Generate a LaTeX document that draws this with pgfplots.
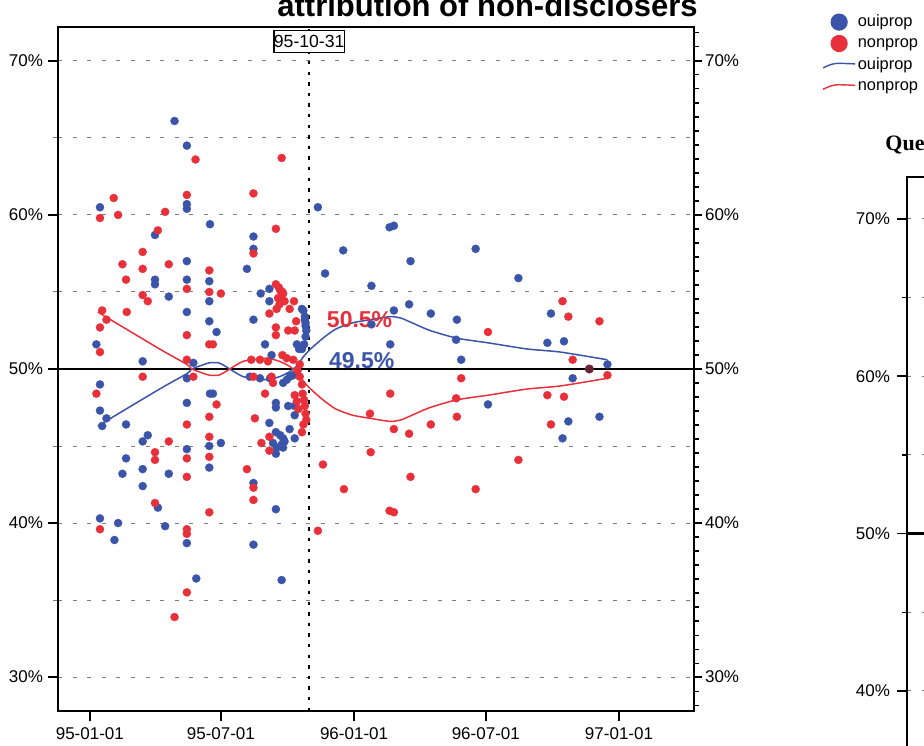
\documentclass[border=0pt]{standalone}
\usepackage{fontspec}
\setmainfont{Liberation Sans}
\newfontfamily\headserif{Liberation Serif}
\usepackage{pgfplots}
\usepackage{pgfplotstable}
\pgfplotsset{compat=1.18}

\definecolor{ouiblue}{RGB}{58,84,170}
\definecolor{nonred}{RGB}{232,48,58}
\definecolor{gridgray}{RGB}{125,125,125}
\definecolor{bothdark}{RGB}{105,35,55}

% x = days since 95-01-01, y = share in percent
\pgfplotstableread{
day pct
117 66.1
134 64.5
14 60.5
134 60.7
134 60.4
90 58.7
134 57.0
90 55.8
90 55.5
134 55.8
109 54.7
134 53.7
9 51.6
73 50.5
143 50.4
134 49.4
14 49.0
14 47.3
23 46.8
17 46.3
50 46.4
134 47.8
80 45.7
73 45.3
134 44.8
50 44.2
73 43.5
45 43.2
109 43.2
73 42.4
94 41.0
14 40.3
39 40.0
104 39.8
34 38.9
134 38.7
147 36.4
315 60.5
166 59.4
226 58.6
226 57.8
217 56.5
165 55.7
165 54.4
165 53.1
175 52.4
248 55.2
236 54.9
248 54.4
226 53.2
293 53.9
295 53.8
297 53.4
297 53.2
298 53.0
298 52.8
299 52.5
298 52.1
296 51.6
293 51.3
286 51.6
289 51.3
242 51.6
251 50.9
221 49.5
235 49.4
249 49.4
267 49.1
272 49.3
276 49.5
281 49.6
286 49.7
166 48.4
170 48.4
257 47.8
257 47.5
274 47.6
283 47.6
283 47.0
248 46.5
276 46.1
257 45.9
263 45.7
267 45.5
269 45.3
265 45.1
258 44.9
267 44.9
253 45.2
283 45.5
257 44.5
181 45.2
165 45.0
165 43.6
226 42.6
257 40.9
226 38.6
265 36.3
350 57.7
414 59.2
420 59.3
443 57.0
325 56.2
389 55.4
533 57.8
592 55.9
420 53.8
441 54.2
471 53.6
507 53.2
389 52.9
415 51.6
506 51.9
513 50.6
632 51.7
655 51.8
637 53.6
715 50.3
667 49.4
550 47.7
661 46.6
653 45.5
704 46.9
}\ouipoints

\pgfplotstableread{
day pct
146 63.6
33 61.1
14 59.8
39 60.0
134 61.3
104 60.2
94 59.0
73 57.6
45 56.8
73 56.5
109 56.8
50 55.8
134 55.2
73 54.8
80 54.4
17 53.8
23 53.2
51 53.7
14 52.7
134 52.2
14 51.1
134 50.6
143 49.5
73 49.5
9 48.4
134 46.4
109 45.3
90 44.6
90 44.1
134 44.2
134 43.0
90 41.3
14 39.6
134 39.6
134 39.3
134 35.5
117 33.9
265 63.7
226 61.4
257 59.1
226 57.5
165 56.4
165 55.0
181 54.9
257 55.5
263 55.1
267 54.9
265 54.6
269 54.4
262 54.2
258 53.9
261 55.3
266 55.0
260 54.6
282 54.4
276 53.9
248 53.6
285 53.1
257 52.7
257 52.2
274 52.5
283 52.5
165 51.6
170 51.6
266 50.9
272 50.7
281 50.6
223 50.6
235 50.6
246 50.5
253 49.1
226 49.5
251 49.5
242 48.4
175 47.7
165 46.9
228 46.8
237 45.2
248 44.7
248 45.6
165 45.6
165 44.3
217 43.5
226 42.3
226 41.5
165 40.7
290 49.5
293 49.0
294 48.4
296 48.0
297 47.6
298 47.1
299 46.7
295 46.4
293 45.9
283 48.3
286 47.9
288 47.4
290 50.3
287 49.9
315 39.5
322 43.8
351 42.2
388 44.6
387 47.1
420 46.1
441 45.8
471 46.4
507 46.9
415 48.4
506 48.1
513 49.4
443 43.0
414 40.8
420 40.7
533 42.2
592 44.1
550 52.4
653 54.4
661 53.4
704 53.1
667 50.6
715 49.6
632 48.3
655 48.2
637 46.4
}\nonpoints

% smoothed trends
\pgfplotstableread{
day oui non
11 46.3 53.7
50 47.4 52.6
100 48.8 51.2
134 49.7 50.3
141 50.0 50.0
152 50.2 49.8
165 50.4 49.6
178 50.4 49.6
190 50.1 49.9
200 49.8 50.2
212 49.5 50.5
225 49.4 50.6
245 49.3 50.7
262 49.5 50.5
275 49.8 50.2
286 50.2 49.8
295 50.8 49.2
305 51.3 48.7
322 52.0 48.0
340 52.6 47.4
363 53.0 47.0
387 53.2 46.8
415 53.4 46.6
430 53.3 46.7
445 53.0 47.0
470 52.5 47.5
507 52.0 48.0
550 51.7 48.3
604 51.3 48.7
650 51.1 48.9
715 50.6 49.4
}\trend

\pgfplotsset{
  gridline/.style={gridgray, line width=0.5pt, dash pattern=on 2pt off 5.3pt},
}

\begin{document}
\begin{tikzpicture}
\path[use as bounding box] (0,0) rectangle (462pt,372.5pt);
\clip (0,0) rectangle (462pt,372.5pt);

% main panel
\begin{axis}[
  scale only axis,
  width=318pt, height=342pt,
  at={(29pt,17pt)}, anchor=south west,
  xmin=-44, xmax=834.6,
  ymin=27.8, ymax=72.2,
  xtick={0,181,365,547,731},
  xticklabels={95-01-01,95-07-01,96-01-01,96-07-01,97-01-01},
  ytick={30,40,50,60,70},
  yticklabels={30\%,40\%,50\%,60\%,70\%},
  minor ytick={35,45,55,65},
  tick pos=left,
  tick align=outside,
  major tick length=5pt, minor tick length=2.5pt,
  ymajorgrids, yminorgrids,
  grid style={gridline},
  axis line style={line width=0.9pt},
  major tick style={black, line width=0.8pt},
  minor tick style={gridgray, line width=0.5pt},
  ticklabel style={font=\fontsize{8.5}{10}\selectfont},
  yticklabel style={xshift=1pt},
  legend style={at={(1.2013,1.0234)}, anchor=north west, draw=none, fill=none,
    font=\fontsize{8.2}{9}\selectfont, inner sep=0pt, row sep=0pt,
    nodes={inner xsep=1pt, inner ysep=1.1pt, text height=6.5pt, text depth=2pt}},
  legend cell align=left,
]
\draw[black, line width=1.2pt] (axis cs:-44,50) -- (axis cs:834.6,50);
\draw[black, line width=0.9pt, dash pattern=on 1.7pt off 3.6pt] (axis cs:303,27.8) -- (axis cs:303,72.2);

\addplot[only marks, mark=*, mark size=2.05pt, color=ouiblue, mark options={line width=0.1pt},
  legend image code/.code={\path[draw=none, fill=none] (0pt,-3pt) rectangle (16pt,3pt); \fill[ouiblue] (8pt,0pt) circle (4.1pt);}]
  table[x=day, y=pct] {\ouipoints};
\addlegendentry{ouiprop}
\addplot[only marks, mark=*, mark size=2.05pt, color=nonred, mark options={line width=0.1pt},
  legend image code/.code={\path[draw=none, fill=none] (0pt,-3pt) rectangle (16pt,3pt); \fill[nonred] (8pt,0pt) circle (4.1pt);}]
  table[x=day, y=pct] {\nonpoints};
\addlegendentry{nonprop}
\addplot[only marks, mark=*, mark size=2.05pt, color=bothdark, forget plot] coordinates {(690,50.0)};
\addplot[ouiblue, line width=0.75pt, smooth, tension=0.4, no marks,
  legend image code/.code={\path[draw=none, fill=none] (0pt,-3pt) rectangle (16pt,3pt); \draw[ouiblue, line width=0.7pt] (0pt,-1.5pt) .. controls (3pt,0pt) and (5pt,0.8pt) .. (8pt,0.8pt) -- (16pt,0.5pt);}]
  table[x=day, y=oui] {\trend};
\addlegendentry{ouiprop}
\addplot[nonred, line width=0.75pt, smooth, tension=0.4, no marks,
  legend image code/.code={\path[draw=none, fill=none] (0pt,-3pt) rectangle (16pt,3pt); \draw[nonred, line width=0.7pt] (0pt,-1.5pt) .. controls (3pt,0pt) and (5pt,0.8pt) .. (8pt,0.8pt) -- (16pt,0.5pt);}]
  table[x=day, y=non] {\trend};
\addlegendentry{nonprop}

\node[anchor=base west, inner sep=0pt, text=nonred, font=\bfseries\fontsize{11.5}{12}\selectfont] at (axis cs:327,52.7) {50.5\%};
\node[anchor=base west, inner sep=0pt, text=ouiblue, font=\bfseries\fontsize{11.5}{12}\selectfont] at (axis cs:330,50.05) {49.5\%};
\node[draw, line width=0.6pt, fill=white, inner xsep=0pt, inner ysep=2.4pt, anchor=north,
  font=\fontsize{8.8}{10}\selectfont] at (axis cs:303,72.0) {95-10-31};
\end{axis}

% right-hand tick scale of the main panel
\begin{axis}[
  scale only axis,
  width=318pt, height=342pt,
  at={(29pt,17pt)}, anchor=south west,
  xmin=-44, xmax=834.6,
  ymin=27.8, ymax=72.2,
  axis x line=none, axis y line*=right,
  ytick={30,40,50,60,70},
  yticklabels={30\%,40\%,50\%,60\%,70\%},
  minor ytick={28.1818,29.0909,...,72.1},
  tick align=outside,
  major tick length=4pt, minor tick length=2.5pt,
  axis line style={line width=0.9pt},
  major tick style={black, line width=0.8pt},
  minor tick style={black, line width=0.6pt},
  ticklabel style={font=\fontsize{8.5}{10}\selectfont},
  yticklabel style={xshift=-2pt},
]
\addplot[draw=none] coordinates {(0,50)};
\end{axis}

% neighbouring panel
\begin{axis}[
  scale only axis,
  width=300pt, height=414.2pt,
  at={(453.5pt,284pt)}, anchor=north west,
  xmin=0, xmax=1, ymin=20, ymax=72.67,
  xtick=\empty,
  ytick={40,50,60,70},
  yticklabels={40\%,50\%,60\%,70\%},
  minor ytick={45,55,65},
  tick pos=left,
  tick align=outside,
  major tick length=5pt, minor tick length=2.5pt,
  ymajorgrids, yminorgrids,
  grid style={gridline},
  axis line style={line width=0.9pt},
  major tick style={black, line width=0.8pt},
  minor tick style={black, line width=0.6pt},
  ticklabel style={font=\fontsize{8.5}{10}\selectfont},
]
\draw[black, line width=1.2pt] (axis cs:0,50) -- (axis cs:1,50);
\addplot[draw=none] coordinates {(0.5,50)};
\end{axis}

\node[anchor=base, inner sep=0pt, font=\bfseries\fontsize{15.5}{16}\selectfont] at (243.75pt,364pt) {attribution of non-disclosers};
\node[anchor=base west, inner sep=0pt, font=\headserif\bfseries\fontsize{11}{12}\selectfont] at (442.5pt,297.25pt) {Que};
\end{tikzpicture}
\end{document}
